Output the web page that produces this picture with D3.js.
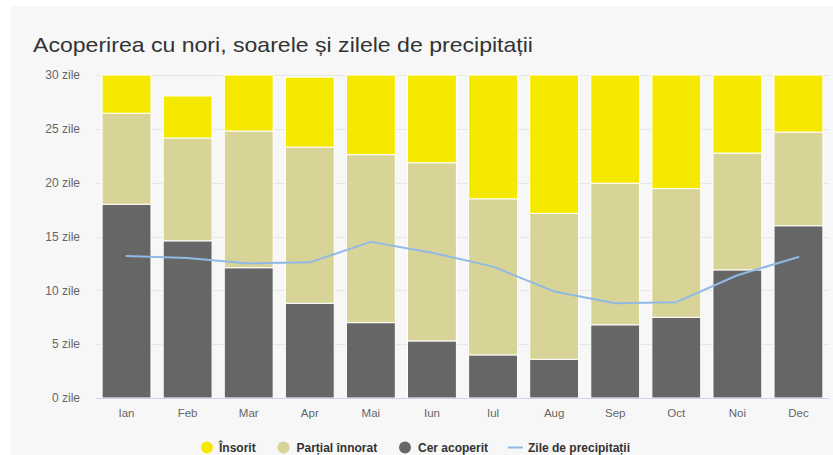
<!DOCTYPE html>
<html><head><meta charset="utf-8">
<script src="https://cdn.jsdelivr.net/npm/d3@7"></script>
<style>
html,body{margin:0;padding:0;background:#fff;}
svg{display:block;}
</style></head>
<body>
<svg id="chart" width="833" height="455"></svg>
<script>
const months = ["Ian","Feb","Mar","Apr","Mai","Iun","Iul","Aug","Sep","Oct","Noi","Dec"];
const overcast = [18.0, 14.6, 12.1, 8.8, 7.0, 5.3, 4.0, 3.6, 6.8, 7.5, 11.9, 16.0];
const partly   = [8.45, 9.55, 12.7, 14.5, 15.6, 16.55, 14.5, 13.55, 13.15, 11.95, 10.85, 8.7];
const sunny    = [3.55, 3.9, 5.2, 6.5, 7.4, 8.15, 11.5, 12.85, 10.05, 10.55, 7.25, 5.3];
const precip   = [13.2, 13.0, 12.5, 12.6, 14.5, 13.5, 12.2, 9.9, 8.8, 8.9, 11.4, 13.1];
const yTicks = [0, 5, 10, 15, 20, 25, 30];
const seriesNames = ["Însorit", "Parțial înnorat", "Cer acoperit", "Zile de precipitații"];
const colors = {sunny:"#f5e900", partly:"#d8d396", overcast:"#666666", precip:"#90bae6"};

const svg = d3.select("#chart");
const W = 833, H = 455;
const font = "'Liberation Sans', Arial, sans-serif";

// panel background
svg.append("rect").attr("x", 11).attr("y", 6).attr("width", W - 11).attr("height", H - 6).attr("fill", "#f7f7f7");

// title
svg.append("text").attr("x", 33).attr("y", 52)
  .attr("font-family", font).attr("font-size", 21).attr("fill", "#333")
  .attr("textLength", 500).attr("lengthAdjust", "spacingAndGlyphs")
  .text("Acoperirea cu nori, soarele și zilele de precipitații");

const x = d3.scaleBand().domain(months).range([96, 829]).paddingInner(0.2).paddingOuter(0.1);
const y = d3.scaleLinear().domain([0, 30]).range([398, 75]);

// gridlines
svg.append("g").selectAll("line").data(yTicks.filter(d => d > 0)).join("line")
  .attr("x1", 96).attr("x2", 829)
  .attr("y1", d => Math.round(y(d)) + 0.5).attr("y2", d => Math.round(y(d)) + 0.5)
  .attr("stroke", "#e6e6e6").attr("stroke-width", 1);

// y labels
svg.append("g").selectAll("text").data(yTicks).join("text")
  .attr("x", 80).attr("y", d => y(d)).attr("dy", "0.35em")
  .attr("text-anchor", "end").attr("font-family", font).attr("font-size", 12).attr("fill", "#666")
  .text(d => d + " zile");

// stacked data
const rows = months.map((m, i) => ({month: m, overcast: overcast[i], partly: partly[i], sunny: sunny[i]}));
const stack = d3.stack().keys(["overcast", "partly", "sunny"])(rows);

svg.append("g").selectAll("g").data(stack).join("g")
  .attr("fill", d => colors[d.key])
  .selectAll("rect").data(d => d).join("rect")
  .attr("x", d => x(d.data.month))
  .attr("width", x.bandwidth())
  .attr("y", d => y(d[1]))
  .attr("height", d => y(d[0]) - y(d[1]))
  .attr("stroke", "#ffffff").attr("stroke-width", 1);

// x axis line
svg.append("line").attr("x1", 96).attr("x2", 829).attr("y1", 398.5).attr("y2", 398.5)
  .attr("stroke", "#ccd6eb").attr("stroke-width", 1);

// x labels
svg.append("g").selectAll("text").data(months).join("text")
  .attr("x", d => x(d) + x.bandwidth() / 2).attr("y", 417)
  .attr("text-anchor", "middle").attr("font-family", font).attr("font-size", 11.5).attr("fill", "#666")
  .text(d => d);

// precipitation line
const line = d3.line().x((d, i) => x(months[i]) + x.bandwidth() / 2).y(d => y(d));
svg.append("path").datum(precip).attr("d", line)
  .attr("fill", "none").attr("stroke", colors.precip).attr("stroke-width", 2)
  .attr("stroke-linejoin", "round").attr("stroke-linecap", "round");

// legend
const legend = svg.append("g").attr("font-family", font).attr("font-size", 12).attr("font-weight", "bold").attr("fill", "#333");
const ly = 447.5;
const items = [
  {name: seriesNames[0], type: "circle", color: colors.sunny, sx: 207, tx: 219},
  {name: seriesNames[1], type: "circle", color: colors.partly, sx: 283.5, tx: 296.5},
  {name: seriesNames[2], type: "circle", color: colors.overcast, sx: 405, tx: 418},
  {name: seriesNames[3], type: "line", color: colors.precip, sx: 515.5, tx: 528}
];
items.forEach(it => {
  if (it.type === "circle") {
    legend.append("circle").attr("cx", it.sx).attr("cy", ly).attr("r", 6).attr("fill", it.color);
  } else {
    legend.append("line").attr("x1", it.sx - 7.5).attr("x2", it.sx + 7.5).attr("y1", ly).attr("y2", ly)
      .attr("stroke", it.color).attr("stroke-width", 2);
  }
  legend.append("text").attr("x", it.tx).attr("y", ly).attr("dy", "0.35em").text(it.name);
});
</script>
</body></html>
